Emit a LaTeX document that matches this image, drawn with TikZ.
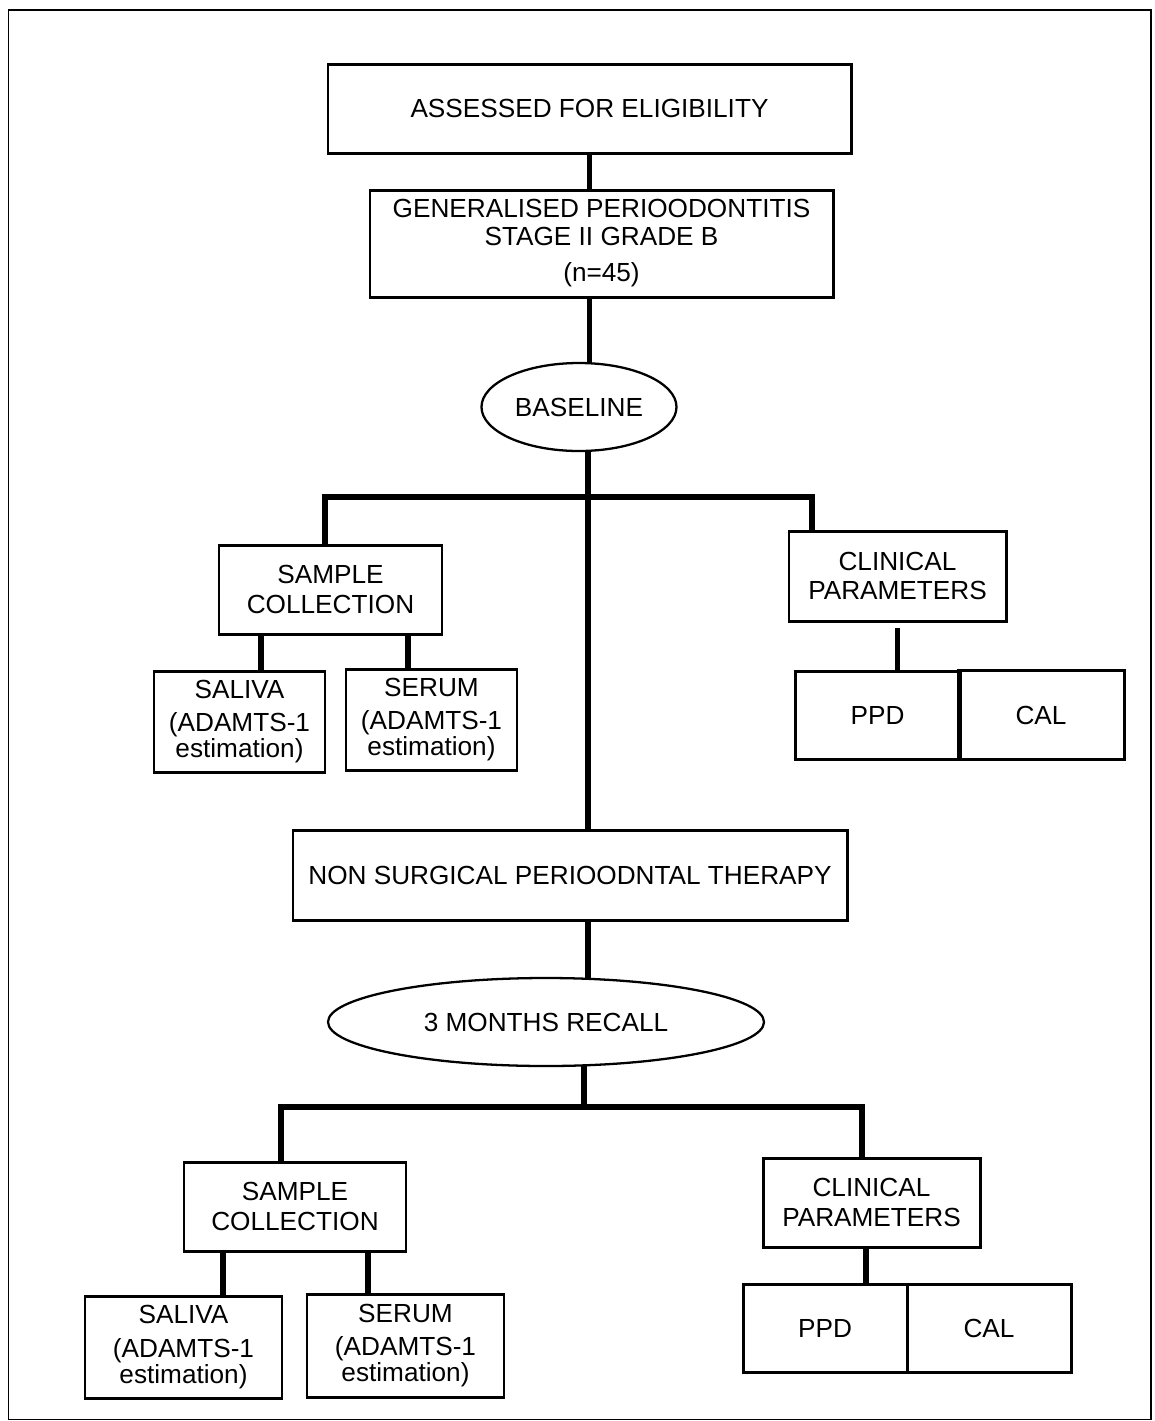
\documentclass[tikz,border=0pt]{standalone}
\usepackage{fontspec}
\setmainfont{Liberation Sans}
\usetikzlibrary{positioning, shapes.geometric}

\begin{document}
\begin{tikzpicture}[every node/.style={font=\fontsize{14.9}{17}\selectfont},
    box/.style={rectangle, draw, line width=1.7pt, align=center, inner sep=1pt, outer sep=0pt},
    oval/.style={ellipse, draw, line width=1.3pt, inner sep=0pt, outer sep=0pt},
    link/.style={line width=3pt}]
    \useasboundingbox (0,0) rectangle (23.08,-28.42);
    \draw[line width=1.1pt] (0.17,-0.2) rectangle (23.02,-28.39);
    % main chain
    \node[box, minimum width=10.46cm, minimum height=1.78cm] (assess) at (11.79,-2.17) {ASSESSED FOR ELIGIBILITY};
    \node[box, minimum width=9.26cm, minimum height=2.14cm, below=0.74cm of assess, xshift=0.24cm] (gen) {GENERALISED PERIOODONTITIS\\[-1.6pt]STAGE II GRADE B\\[4pt](n=45)};
    \node[oval, minimum width=3.9cm, minimum height=1.76cm, below=1.32cm of gen, xshift=-0.45cm] (baseline) {BASELINE};
    \node[box, minimum width=11.08cm, minimum height=1.8cm, below=7.58cm of baseline, xshift=-0.18cm] (therapy) {NON SURGICAL PERIOODNTAL THERAPY};
    \node[oval, minimum width=8.72cm, minimum height=1.76cm, below=1.16cm of therapy, xshift=-0.48cm] (recall) {3 MONTHS RECALL};
    % baseline branch
    \node[box, minimum width=4.46cm, minimum height=1.78cm, below=1.88cm of baseline, xshift=-4.97cm] (sample1) {SAMPLE\\COLLECTION};
    \node[box, minimum width=4.34cm, minimum height=1.8cm, below=1.6cm of baseline, xshift=6.37cm] (clin1) {CLINICAL\\PARAMETERS};
    \node[box, minimum width=3.42cm, minimum height=2.02cm, below=0.74cm of sample1, xshift=-1.82cm] (saliva1) {SALIVA\\[2.3pt](ADAMTS-1\\[-2.3pt]estimation)};
    \node[box, minimum width=3.42cm, minimum height=2.02cm, below=0.7cm of sample1, xshift=2.02cm] (serum1) {SERUM\\[2.3pt](ADAMTS-1\\[-2.3pt]estimation)};
    \node[box, minimum width=3.3cm, minimum height=1.76cm, below=1cm of clin1, xshift=-0.4cm] (ppd1) {PPD};
    \node[box, minimum width=3.32cm, minimum height=1.78cm, right=-0.04cm of ppd1] (cal1) {CAL};
    % recall branch
    \node[box, minimum width=4.44cm, minimum height=1.78cm, below=1.92cm of recall, xshift=-5.02cm] (sample2) {SAMPLE\\COLLECTION};
    \node[box, minimum width=4.34cm, minimum height=1.78cm, below=1.84cm of recall, xshift=6.51cm] (clin2) {CLINICAL\\PARAMETERS};
    \node[box, minimum width=3.94cm, minimum height=2.04cm, below=0.9cm of sample2, xshift=-2.23cm] (saliva2) {SALIVA\\[2.3pt](ADAMTS-1\\[-2.3pt]estimation)};
    \node[box, minimum width=3.94cm, minimum height=2.06cm, below=0.86cm of sample2, xshift=2.21cm] (serum2) {SERUM\\[2.3pt](ADAMTS-1\\[-2.3pt]estimation)};
    \node[box, minimum width=3.28cm, minimum height=1.76cm, below=0.74cm of clin2, xshift=-0.93cm] (ppd2) {PPD};
    \node[box, minimum width=3.28cm, minimum height=1.76cm, right=0cm of ppd2] (cal2) {CAL};
    % hubs
    \coordinate[below=0.92cm of baseline.south, xshift=0.18cm] (hub1);
    \coordinate[below=0.82cm of recall.south, xshift=0.76cm] (hub2);
    % lines
    \draw[link] (assess.south) -- (assess.south |- gen.north);
    \draw[link] (gen.south -| assess.south) -- (assess.south |- baseline.north);
    \draw[link] (baseline.south -| hub1) -- (hub1 |- therapy.north);
    \draw[link] ([xshift=-0.11cm]sample1.north) |- (hub1) -| ([xshift=0.46cm]clin1.north west);
    \draw[link] ([xshift=-1.39cm]sample1.south) -- ([xshift=-1.39cm]sample1.south |- saliva1.north);
    \draw[link] ([xshift=1.55cm]sample1.south) -- ([xshift=1.55cm]sample1.south |- serum1.north);
    \draw[link, shorten <=0.14cm] (clin1.south) -- (clin1.south |- ppd1.north);
    \draw[link] (therapy.south -| hub1) -- (hub1 |- recall.north);
    \draw[link] (recall.south -| hub2) -- (hub2);
    \draw[link] ([xshift=-0.28cm]sample2.north) |- (hub2) -| ([xshift=-0.19cm]clin2.north);
    \draw[link] ([xshift=-1.44cm]sample2.south) -- ([xshift=-1.44cm]sample2.south |- saliva2.north);
    \draw[link] ([xshift=1.46cm]sample2.south) -- ([xshift=1.46cm]sample2.south |- serum2.north);
    \draw[link] ([xshift=-0.11cm]clin2.south) -- ([xshift=-0.11cm]clin2.south |- ppd2.north);
\end{tikzpicture}
\end{document}
